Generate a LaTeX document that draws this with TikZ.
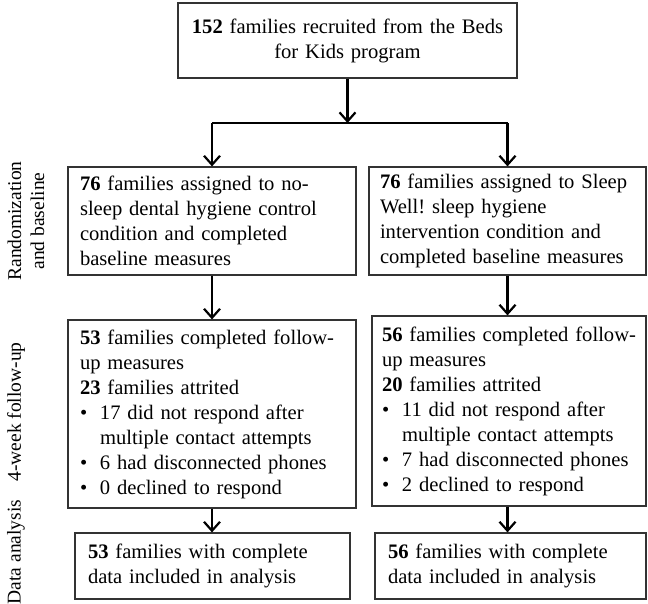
\documentclass[tikz,border=0pt]{standalone}
\usepackage{fontspec}
\setmainfont{Liberation Serif}
\usepackage{tikz}
\usetikzlibrary{arrows.meta}

\begin{document}
\frenchspacing
\begin{tikzpicture}[
                x=1pt,y=-1pt,
                every node/.style={font=\fontsize{20.6}{25}\selectfont},
                flow box/.style={draw=black!80,line width=1.2pt,rectangle,inner sep=0pt,align=left},
                phase label/.style={rotate=90,align=center,font=\fontsize{19.5}{23}\selectfont},
                flow arrow/.style={line width=2.4pt,-{Straight Barb[length=9pt,width=16pt,line width=2.2pt]}},
                ]
                \useasboundingbox (0,0) rectangle (648,603);
                \def\bul{\makebox[20pt][l]{\textbullet}}

                % boxes
                \node[flow box,minimum width=339,minimum height=75,text width=325pt,align=center] (recruit) at (347.5,40.5)
                    {\textbf{152} families recruited from the Beds\\for Kids program};
                \node[flow box,minimum width=288,minimum height=108,text width=264pt] (control) at (212,221)
                    {\textbf{76} families assigned to no-\\sleep dental hygiene control\\condition and completed\\baseline measures};
                \node[flow box,minimum width=277,minimum height=108,text width=255pt] (sleepwell) at (507.5,221)
                    {\textbf{76} families assigned to Sleep\\Well! sleep hygiene\\intervention condition and\\completed baseline measures};
                \node[flow box,minimum width=288,minimum height=188,text width=264pt] (followC) at (212,414)
                    {\mbox{\textbf{53} families completed follow-}\\up measures\\\textbf{23} families attrited\\
                     \bul 17 did not respond after\\\hspace*{20pt}multiple contact attempts\\
                     \bul 6 had disconnected phones\\\bul 0 declined to respond};
                \node[flow box,minimum width=274,minimum height=190,text width=254pt] (followS) at (509,411)
                    {\mbox{\textbf{56} families completed follow-}\\up measures\\\textbf{20} families attrited\\
                     \bul 11 did not respond after\\\mbox{\hspace*{20pt}multiple contact attempts}\\
                     \mbox{\bul 7 had disconnected phones}\\\bul 2 declined to respond};
                \node[flow box,minimum width=275,minimum height=66,text width=249pt] (analysisC) at (212.5,566)
                    {\textbf{53} families with complete\\data included in analysis\\[6pt]};
                \node[flow box,minimum width=271,minimum height=66,text width=245pt] (analysisS) at (510.5,566)
                    {\textbf{56} families with complete\\data included in analysis\\[6pt]};

                % phase labels
                \node[phase label] (lrand) at (26,221) {Randomization\\and baseline};
                \node[phase label] (lfollow) at (16,412) {4-week follow-up};
                \node[phase label] (lanalysis) at (16,552) {Data analysis};

                % arrows
                \coordinate (split) at (recruit.south |- 0,123);
                \draw[flow arrow] (recruit) -- (split);
                \draw[line width=2.4pt] (control.north |- split) -- (sleepwell.north |- split);
                \draw[flow arrow] (control.north |- split) -- (control);
                \draw[flow arrow] (sleepwell.north |- split) -- (sleepwell);
                \draw[flow arrow] (control) -- (followC);
                \draw[flow arrow] (sleepwell) -- (followS.north -| sleepwell);
                \draw[flow arrow] (followC) -- (analysisC.north -| followC);
                \draw[flow arrow] (followS.south -| sleepwell) -- (analysisS.north -| sleepwell);
            \end{tikzpicture}
\end{document}
